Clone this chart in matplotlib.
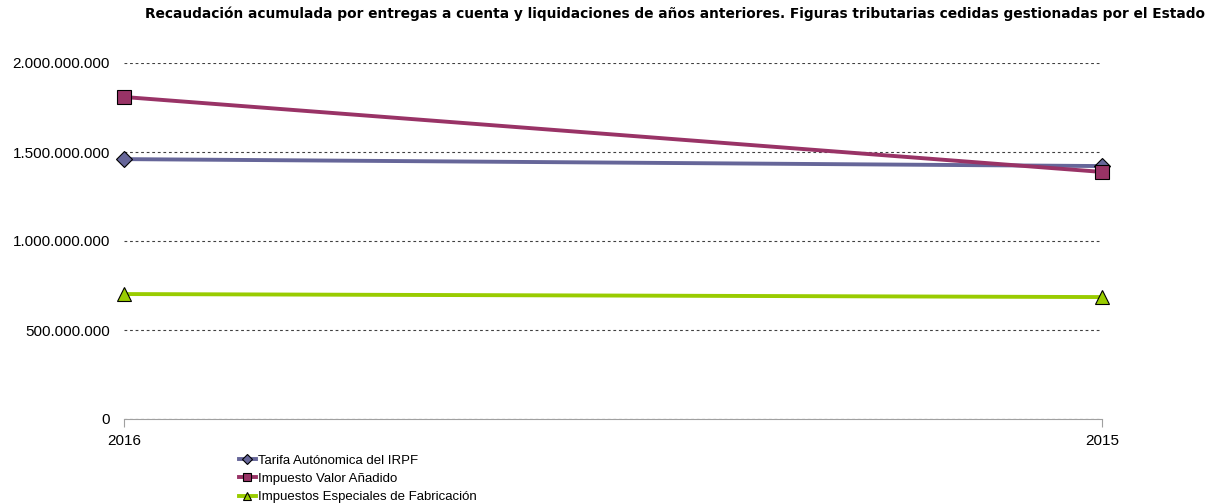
import matplotlib.pyplot as plt
from matplotlib.ticker import FuncFormatter

plt.rcParams['font.family'] = ['Liberation Sans', 'DejaVu Sans']

years = ['2016', '2015']
series_names = ['Tarifa Autónomica del IRPF', 'Impuesto Valor Añadido',
                'Impuestos Especiales de Fabricación']
irpf = [1460000000, 1421000000]
iva = [1809000000, 1388000000]
ief = [702000000, 685000000]

colors = ['#666699', '#993366', '#99CC00']
markers = ['D', 's', '^']
msizes = [8.5, 10, 10.5]

fig = plt.figure(figsize=(12.15, 5.04), dpi=100)
W, H = 1215, 504
ax = fig.add_axes([124 / W, 1 - 419 / H, (1102 - 124) / W, (419 - 63) / H])

x = list(range(len(years)))
for vals, name, c, m, ms in zip([irpf, iva, ief], series_names, colors, markers, msizes):
    ax.plot(x, vals, color=c, lw=2.8, marker=m, ms=ms, mfc=c, mec='black',
            mew=0.8, label=name, clip_on=False, zorder=3)

ax.set_xlim(0, 1)
ax.set_ylim(0, 2000000000)
ax.set_yticks([0, 500000000, 1000000000, 1500000000, 2000000000])
ax.yaxis.set_major_formatter(FuncFormatter(lambda v, p: f'{int(v):,}'.replace(',', '.')))
ax.set_xticks(x)
ax.set_xticklabels(years)
ax.grid(axis='y', color='#404040', ls=(0, (2.5, 2.5)), lw=0.8)
for s in ['top', 'right', 'left']:
    ax.spines[s].set_visible(False)
ax.spines['bottom'].set_color('#a0a0a0')
ax.spines['bottom'].set_linestyle((0, (2, 1)))
ax.tick_params(axis='y', length=0, pad=10, labelsize=11)
ax.tick_params(axis='x', length=6, color='#a0a0a0', pad=5, labelsize=11)

fig.text(675 / W, 1 - 14 / H,
         'Recaudación acumulada por entregas a cuenta y liquidaciones de años anteriores. '
         'Figuras tributarias cedidas gestionadas por el Estado',
         ha='center', va='center', fontsize=9.9, fontweight='bold',
         family='DejaVu Sans')

leg = fig.legend(loc='upper left', bbox_to_anchor=(232 / W, 1 - 448 / H),
                 frameon=False, fontsize=9.5, handlelength=1.3, handletextpad=0.2,
                 labelspacing=0.45, borderpad=0, markerscale=0.55)

fig.savefig('out.png', dpi=100)
